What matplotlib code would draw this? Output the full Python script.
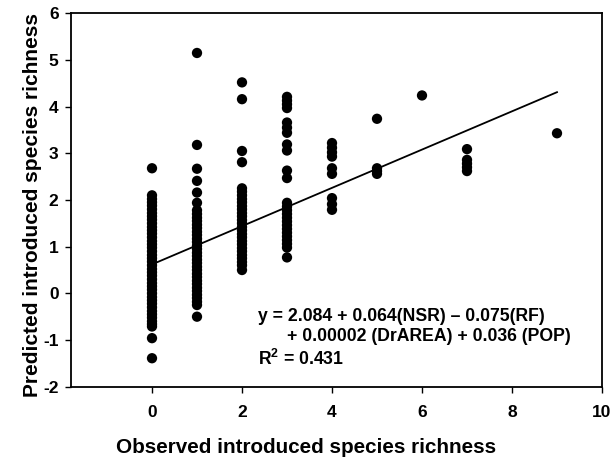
import matplotlib
matplotlib.use("Agg")
import matplotlib.pyplot as plt

plt.rcParams['font.family'] = ['Liberation Sans', 'DejaVu Sans']
plt.rcParams['font.weight'] = 'bold'
plt.rcParams['mathtext.fontset'] = 'custom'
plt.rcParams['mathtext.rm'] = 'Liberation Sans:bold'
plt.rcParams['mathtext.bf'] = 'Liberation Sans:bold'

# Observed richness (x) -> predicted values (y)
obs_0 = [2.68, 2.10, 2.02, 1.95, 1.88, 1.80, 1.72, 1.65, 1.58, 1.50, 1.42, 1.35,
         1.28, 1.20, 1.12, 1.05, 0.98, 0.90, 0.82, 0.75, 0.68, 0.60, 0.52, 0.45,
         0.38, 0.30, 0.22, 0.15, 0.08, 0.00, -0.08, -0.15, -0.22, -0.30, -0.38,
         -0.45, -0.52, -0.60, -0.66, -0.71, -0.96, -1.39]
obs_1 = [5.15, 3.18, 2.67, 2.41, 2.16, 1.94, 1.78, 1.70, 1.62, 1.55, 1.47, 1.40,
         1.32, 1.25, 1.17, 1.10, 1.02, 0.95, 0.87, 0.80, 0.72, 0.65, 0.57, 0.50,
         0.42, 0.35, 0.27, 0.20, 0.12, 0.05, -0.03, -0.10, -0.18, -0.25, -0.50]
obs_2 = [4.52, 4.16, 3.05, 2.81, 2.25, 2.18, 2.10, 2.02, 1.95, 1.87, 1.80, 1.72,
         1.65, 1.57, 1.50, 1.42, 1.35, 1.27, 1.20, 1.12, 1.05, 0.97, 0.90, 0.82,
         0.75, 0.67, 0.60, 0.50]
obs_3 = [4.21, 4.13, 4.05, 3.97, 3.66, 3.55, 3.44, 3.19, 3.06, 2.63, 2.47, 1.94,
         1.86, 1.78, 1.70, 1.62, 1.54, 1.46, 1.38, 1.30, 1.22, 1.14, 1.06, 0.98,
         0.77]
obs_4 = [3.22, 3.12, 3.02, 2.93, 2.68, 2.56, 2.04, 1.91, 1.79]
obs_5 = [3.74, 2.68, 2.62, 2.56]
obs_6 = [4.24]
obs_7 = [3.09, 2.86, 2.78, 2.70, 2.62]
obs_9 = [3.43]

groups = {0: obs_0, 1: obs_1, 2: obs_2, 3: obs_3, 4: obs_4,
          5: obs_5, 6: obs_6, 7: obs_7, 9: obs_9}

line_x = [0, 9]
line_y = [0.62, 4.31]

x_ticks = [0, 2, 4, 6, 8, 10]
y_ticks = [-2, -1, 0, 1, 2, 3, 4, 5, 6]

fig = plt.figure(figsize=(6.15, 4.58), dpi=100)
ax = fig.add_axes([71/615, 1 - 386.7/458, 531/615, 373.4/458])

xs, ys = [], []
for k, vals in groups.items():
    xs.extend([k] * len(vals))
    ys.extend(vals)
ax.scatter(xs, ys, s=55, color='black', edgecolors='none', zorder=3)
ax.plot(line_x, line_y, color='black', lw=1.3, zorder=2)

ax.set_xlim(-1.8, 10)
ax.set_ylim(-2, 6)
ax.set_xticks(x_ticks)
ax.set_yticks(y_ticks)
ax.set_xticklabels([str(t) for t in x_ticks], fontsize=12.5, fontweight='bold')
ax.set_yticklabels([str(t) for t in y_ticks], fontsize=12.5, fontweight='bold')
ax.tick_params(axis='x', direction='out', length=4, width=1, pad=9)
ax.tick_params(axis='y', direction='out', length=4, width=1, pad=5)
for sp in ax.spines.values():
    sp.set_linewidth(1.3)

ax.set_xlabel('Observed introduced species richness', fontsize=14.9, fontweight='bold')
ax.set_ylabel('Predicted introduced species richness', fontsize=15, fontweight='bold')
ax.xaxis.set_label_coords(0.4435, -0.163)
ax.yaxis.set_label_coords(-0.072, 0.487)
ax.xaxis.label.set_va('center')
ax.yaxis.label.set_va('center')

ax.text(0.352, 0.1875, 'y = 2.084 + 0.064(NSR) \u2013 0.075(RF)', transform=ax.transAxes,
        fontsize=12.7, fontweight='bold', va='center', ha='left')
ax.text(0.406, 0.134, '+ 0.00002 (DrAREA) + 0.036 (POP)', transform=ax.transAxes,
        fontsize=12.7, fontweight='bold', va='center', ha='left')
ax.text(0.352, 0.075, r'R$^{\mathbf{2}}$ = 0.431', transform=ax.transAxes,
        fontsize=12.7, fontweight='bold', va='center', ha='left')

fig.savefig('out.png', dpi=100)
